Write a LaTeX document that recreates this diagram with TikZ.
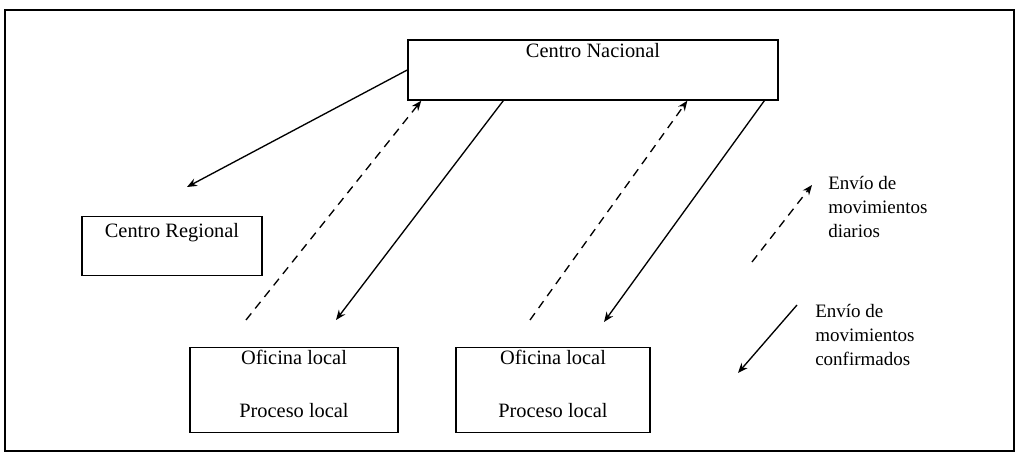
\documentclass[tikz,border=0pt]{standalone}
\usepackage{fontspec}
\setmainfont{Liberation Serif}
\usepackage{tikz}
\usetikzlibrary{arrows.meta,positioning}

\begin{document}
\begin{tikzpicture}[x=0.025cm,y=-0.025cm,>={Stealth[length=2.5mm,width=2mm]},
    box/.style={rectangle,draw,line width=1pt,inner sep=0pt},
    txt/.style={inner sep=1pt,font=\fontsize{14.5}{17}\selectfont},
    lgd/.style={inner sep=0pt,anchor=north west,align=left,font=\fontsize{13.5}{17}\selectfont},
    sendarrow/.style={->,line width=0.95pt},
    dailyarrow/.style={->,line width=0.95pt,dash pattern=on 6pt off 4.5pt}]
  \useasboundingbox (0,0) rectangle (1021,453);
  \draw[line width=1.1pt] (5,10) rectangle (1014,451);
  % boxes
  \node[box,minimum width=9.25cm,minimum height=1.5cm] (cn) at (593,70) {};
  \node[box,minimum width=4.5cm,minimum height=1.475cm] (cr) at (172,246) {};
  \node[box,minimum width=5.2cm,minimum height=2.125cm] (ol1) at (294,390) {};
  \node[box,minimum width=4.85cm,minimum height=2.125cm] (ol2) at (553,390) {};
  \node[txt,below=2pt of cn.north] (cn-t) {Centro Nacional};
  \node[txt,below=4pt of cr.north] (cr-t) {Centro Regional};
  \node[txt,below=1pt of ol1.north] (ol1-t) {Oficina local};
  \node[txt,above=10pt of ol1.south] (ol1-p) {Proceso local};
  \node[txt,below=1pt of ol2.north] (ol2-t) {Oficina local};
  \node[txt,above=10pt of ol2.south] (ol2-p) {Proceso local};
  % free ends
  \coordinate (cr-in) at (187,187);
  \coordinate (d1-s) at (246,320);
  \coordinate (s1-e) at (336,320);
  \coordinate (d2-s) at (530,320);
  \coordinate (s2-e) at (604,322);
  \draw[sendarrow] (cn.west) -- (cr-in);
  \draw[dailyarrow] (d1-s) -- ([xshift=0.35cm]cn.south west);
  \draw[sendarrow] ([xshift=2.4cm]cn.south west) -- (s1-e);
  \draw[dailyarrow] (d2-s) -- ([xshift=7cm]cn.south west);
  \draw[sendarrow] ([xshift=8.925cm]cn.south west) -- (s2-e);
  % legend
  \coordinate (lg1-s) at (752,262);
  \coordinate (lg1-e) at (812,185);
  \coordinate (lg2-s) at (797,305);
  \coordinate (lg2-e) at (738,373);
  \draw[dailyarrow] (lg1-s) -- (lg1-e);
  \draw[sendarrow] (lg2-s) -- (lg2-e);
  \node[lgd] (lg1-t) at (828,176) {Envío de\\movimientos\\diarios};
  \node[lgd] (lg2-t) at (815,304) {Envío de\\movimientos\\confirmados};
\end{tikzpicture}
\end{document}
